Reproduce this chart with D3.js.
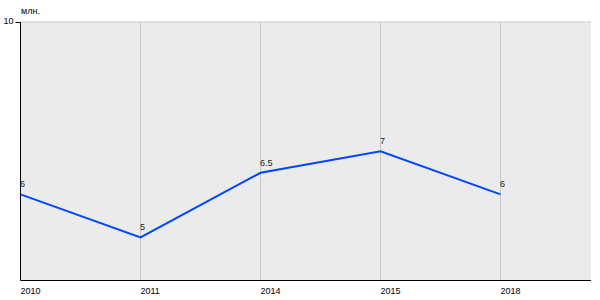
<!DOCTYPE html>
<html><head><meta charset="utf-8">
<script src="https://cdn.jsdelivr.net/npm/d3@7"></script>
<style>body{margin:0;background:#fff}svg{display:block}text{font-family:"Liberation Sans",Arial,sans-serif}</style>
</head><body><svg width="600" height="300"></svg>
<script>
const categories = ["2010","2011","2014","2015","2018"];
const values = [6,5,6.5,7,6];
const valueLabels = ["6","5","6.5","7","6"];
const yTicks = [10];
const unit = "млн.";

(function(){
const svg = d3.select("svg");
const mL = 20.5, mR = 591, mT = 22, mB = 280.5;
const x = d3.scalePoint().domain(categories).range([mL, 500.5]);
const y = d3.scaleLinear().domain([4,10]).range([mB, mT]);
const ff = "'Liberation Sans',Arial,sans-serif";

svg.append("rect").attr("x",mL).attr("y",mT).attr("width",mR-mL).attr("height",mB-mT).attr("fill","#ebebeb");
svg.selectAll(".vg").data(categories.slice(1)).enter().append("line")
  .attr("x1",d=>x(d)).attr("x2",d=>x(d)).attr("y1",mT).attr("y2",mB)
  .attr("stroke","#c8c8c8").attr("stroke-width",1);
svg.selectAll(".hg").data(yTicks).enter().append("line")
  .attr("x1",mL).attr("x2",mR).attr("y1",d=>y(d)).attr("y2",d=>y(d))
  .attr("stroke","#c8c8c8").attr("stroke-width",1);

const xAxis = d3.axisBottom(x).tickSize(0).tickPadding(0);
const gx = svg.append("g").attr("transform",`translate(0,${mB})`).call(xAxis);
gx.select(".domain").attr("d",`M${mL},0H${mR}`).attr("stroke","#000");
gx.selectAll("text").attr("text-anchor","start").attr("dy",null).attr("x",-0.5).attr("y",13).attr("font-size",9).attr("fill","#000")
  .attr("font-family",ff);

const yAxis = d3.axisLeft(y).tickValues(yTicks).tickFormat(d3.format("d")).tickSize(5).tickPadding(2);
const gy = svg.append("g").attr("transform",`translate(${mL},0)`).call(yAxis);
gy.select(".domain").attr("d",`M0,${mT}V${mB}`).attr("stroke","#000");
gy.selectAll("text").attr("font-size",9).attr("fill","#000").attr("dy",null).attr("y",1)
  .attr("font-family",ff);
gy.selectAll(".tick line").attr("stroke","#000");

svg.append("text").attr("x",21).attr("y",14).attr("font-size",9).attr("font-family",ff).text(unit);

const line = d3.line().x((d,i)=>x(categories[i])).y(d=>y(d));
svg.append("path").datum(values).attr("d",line).attr("fill","none").attr("stroke","#0047ff").attr("stroke-width",2);

svg.selectAll(".vl").data(values).enter().append("text")
  .attr("x",(d,i)=>x(categories[i])-0.5).attr("y",d=>y(d)-7)
  .attr("font-size",9).attr("font-family",ff).attr("fill","#222").text((d,i)=>valueLabels[i]);
})();
</script></body></html>
